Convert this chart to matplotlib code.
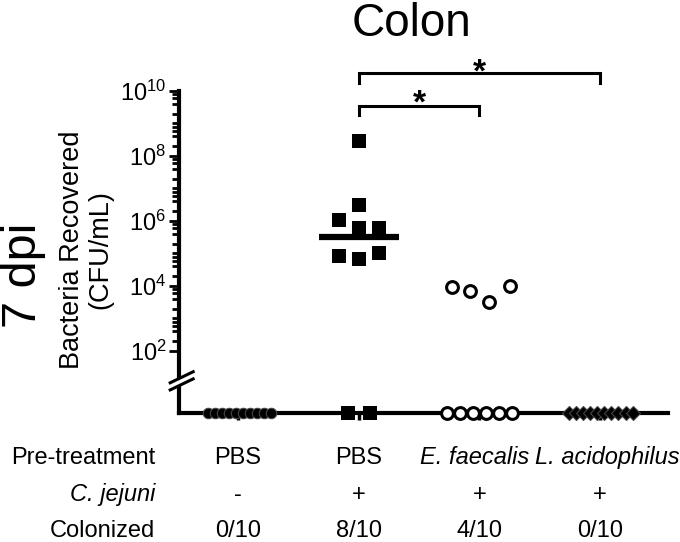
import numpy as np
import matplotlib
matplotlib.use("Agg")
import matplotlib.pyplot as plt
from matplotlib import transforms
from matplotlib.ticker import FixedLocator, NullFormatter


# ==========================================================
# 1. DONNÉES
# ==========================================================

groupes = ["PBS", "PBS", "E. faecalis", "L. acidophilus"]
jejuni = ["-", "+", "+", "+"]
colonises = ["0/10", "8/10", "4/10", "0/10"]
italique_groupe = [False, False, True, True]

# 0 = sous la limite de détection (tracé sur l'axe des x)
valeurs_pbs_neg = [0, 0, 0, 0, 0, 0, 0, 0, 0, 0]
valeurs_pbs_pos = [2.9e8, 3.1e6, 1.07e6, 6.0e5, 6.0e5, 8.4e4, 6.7e4, 1.05e5, 0, 0]
valeurs_faecalis = [9.3e3, 7.0e3, 3.2e3, 1.0e4, 0, 0, 0, 0, 0, 0]
valeurs_acidophilus = [0, 0, 0, 0, 0, 0, 0, 0, 0, 0]

mediane_pbs_pos = 3.2e5

# décalages horizontaux des points (nuage de points)
decalage_pbs_neg = np.linspace(-0.25, 0.27, 10)
decalage_pbs_pos = [0, 0, -0.16, 0, 0.17, -0.16, 0, 0.17, -0.085, 0.09]
decalage_faecalis = [-0.23, -0.075, 0.083, 0.25] + list(np.linspace(-0.27, 0.27, 6))
decalage_acidophilus = np.linspace(-0.26, 0.27, 10)

# décalage horizontal des étiquettes du tableau (en unités de groupe)
decalage_etiquettes = [0, 0, -0.04, 0.06]


# ==========================================================
# 2. MISE EN PAGE
# ==========================================================

plt.rcParams["font.family"] = ["Liberation Sans", "DejaVu Sans"]
plt.rcParams["mathtext.fontset"] = "custom"
plt.rcParams["mathtext.rm"] = "Liberation Sans"
plt.rcParams["mathtext.it"] = "Liberation Sans:italic"

L, H = 680, 542


def fx(px):
    return px / L


def fy(py):
    return 1 - py / H


fig = plt.figure(figsize=(6.8, 5.42), dpi=100)
ax = fig.add_axes([fx(179), fy(413), fx(668) - fx(179), fy(91) - fy(413)])

plancher = 10 ** 0.09
ax.set_yscale("log")
ax.set_ylim(plancher, 1e10)
ax.set_xlim(0.511, 4.563)

for cote in ["top", "right"]:
    ax.spines[cote].set_visible(False)
for cote in ["left", "bottom"]:
    ax.spines[cote].set_linewidth(3)

# graduations de l'axe des y
majeurs = [1e2, 1e4, 1e6, 1e8, 1e10]
mineurs = []
for d in range(2, 10):
    if d % 2 == 1:
        mineurs.append(10.0 ** d)
    for k in [2, 4, 6, 8]:
        mineurs.append(k * 10.0 ** d)

ax.yaxis.set_major_locator(FixedLocator(majeurs))
ax.yaxis.set_minor_locator(FixedLocator(mineurs))
ax.yaxis.set_minor_formatter(NullFormatter())
ax.set_yticklabels([r"$10^{%d}$" % int(np.log10(m)) for m in majeurs])
ax.tick_params(axis="y", which="major", length=7, width=2, labelsize=17, pad=2)
ax.tick_params(axis="y", which="minor", length=5, width=2)

ax.set_xticks([1, 2, 3, 4])
ax.set_xticklabels([])
ax.tick_params(axis="x", which="major", length=5, width=2.5, direction="out")


# ==========================================================
# 3. POINTS
# ==========================================================

def vers_trace(valeurs):
    return [v if v > 0 else plancher for v in valeurs]


ax.plot(1 + np.array(decalage_pbs_neg), vers_trace(valeurs_pbs_neg), "o",
        ms=7.5, mfc="black", mec="#444444", mew=0.8, clip_on=False, zorder=5)

ax.plot(2 + np.array(decalage_pbs_pos), vers_trace(valeurs_pbs_pos), "s",
        ms=9.5, mfc="black", mec="black", mew=0, clip_on=False, zorder=5)

ax.plot(3 + np.array(decalage_faecalis), vers_trace(valeurs_faecalis), "o",
        ms=8.5, mfc="white", mec="black", mew=2.2, clip_on=False, zorder=5)

ax.plot(4 + np.array(decalage_acidophilus), vers_trace(valeurs_acidophilus), "D",
        ms=7, mfc="black", mec="#444444", mew=0.8, clip_on=False, zorder=5)

# médiane du groupe PBS + C. jejuni
ax.plot([2 - 0.33, 2 + 0.33], [mediane_pbs_pos, mediane_pbs_pos],
        color="black", lw=4.5, solid_capstyle="butt", zorder=6)


# ==========================================================
# 4. COUPURE DE L'AXE DES Y
# ==========================================================

mixte = transforms.blended_transform_factory(ax.transAxes, ax.transData)
x0, x1 = -0.018, 0.029
ax.fill([x0, x1, x1, x0], [10 ** 0.80, 10 ** 1.14, 10 ** 1.36, 10 ** 1.02],
        color="white", transform=mixte, clip_on=False, zorder=7)
for b in [0.80, 1.02]:
    ax.plot([x0, x1], [10 ** b, 10 ** (b + 0.34)], color="black", lw=2.2,
            transform=mixte, clip_on=False, zorder=8)


# ==========================================================
# 5. CROCHETS DE SIGNIFICATIVITÉ
# ==========================================================

# (début, fin, hauteur du trait, bas des pattes, ligne de base de l'étoile)
crochets = [(2, 4, 10.55, 10.25, 10.28), (2, 3, 9.54, 9.26, 9.35)]
for xa, xb, haut, bas, etoile in crochets:
    ax.plot([xa, xa, xb, xb], [10 ** bas, 10 ** haut, 10 ** haut, 10 ** bas],
            color="black", lw=2.2, clip_on=False, solid_joinstyle="miter")
    ax.text((xa + xb) / 2, 10 ** etoile, "*", ha="center", va="baseline",
            fontsize=24, fontweight="bold")


# ==========================================================
# 6. TEXTES
# ==========================================================

fig.text(fx(411), fy(36), "Colon", ha="center", va="baseline", fontsize=33)
fig.text(fx(23), fy(275), "7 dpi", ha="center", va="center", rotation=90, fontsize=35)
fig.text(fx(86), fy(250), "Bacteria Recovered\n(CFU/mL)", ha="center", va="center",
         rotation=90, fontsize=19.5, linespacing=1.1)

tableau = transforms.blended_transform_factory(ax.transData, fig.transFigure)
lignes = [("Pre-treatment", 464, False), ("C. jejuni", 501, True), ("Colonized", 537, False)]
for texte, base, ital in lignes:
    fig.text(fx(155), fy(base), texte, ha="right", va="baseline", fontsize=17,
             style="italic" if ital else "normal")

for i in range(4):
    xe = i + 1 + decalage_etiquettes[i]
    ax.text(xe, fy(464), groupes[i], transform=tableau, ha="center", va="baseline",
            fontsize=17, style="italic" if italique_groupe[i] else "normal")
    ax.text(i + 1, fy(501), jejuni[i], transform=tableau, ha="center", va="baseline",
            fontsize=17)
    ax.text(i + 1, fy(537), colonises[i], transform=tableau, ha="center", va="baseline",
            fontsize=17)

fig.savefig("out.png", dpi=100)
